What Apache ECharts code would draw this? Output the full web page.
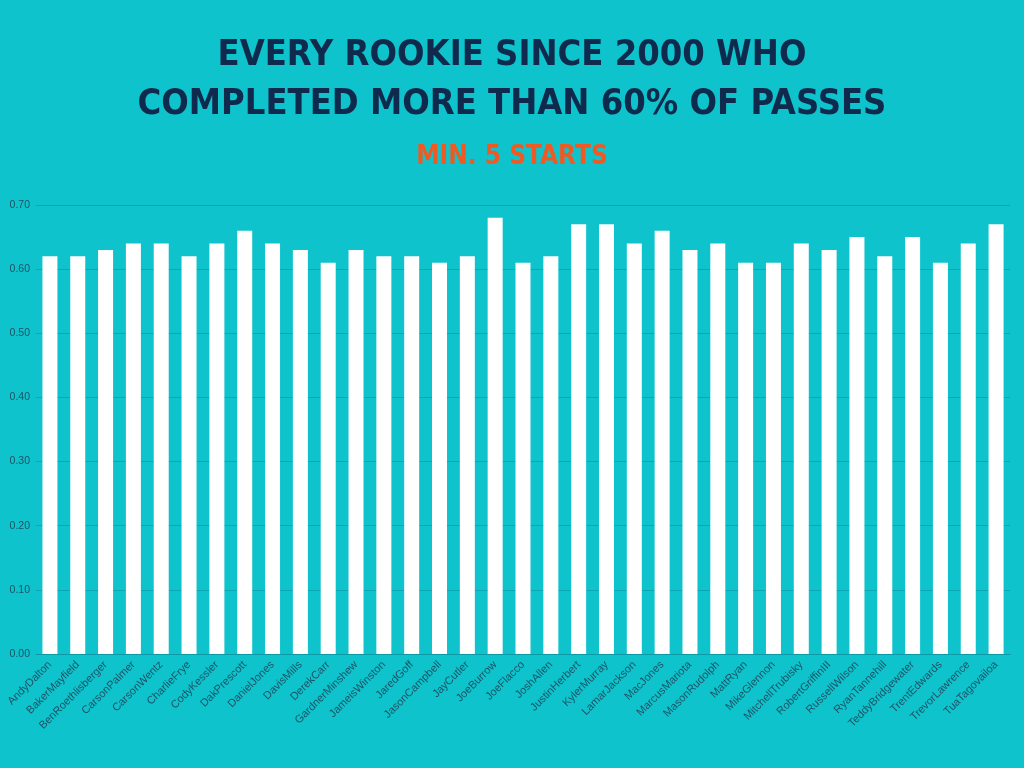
<!DOCTYPE html>
<html><head><meta charset="utf-8">
<script src="https://cdn.jsdelivr.net/npm/echarts@6/dist/echarts.min.js"></script>
<style>html,body{margin:0;padding:0;background:#0fc3cc;}#c{width:1024px;height:768px;}</style>
</head><body><div id="c"></div>
<script>
const categories = ["AndyDalton","BakerMayfield","BenRoethlisberger","CarsonPalmer","CarsonWentz","CharlieFrye","CodyKessler","DakPrescott","DanielJones","DavisMills","DerekCarr","GardnerMinshew","JameisWinston","JaredGoff","JasonCampbell","JayCutler","JoeBurrow","JoeFlacco","JoshAllen","JustinHerbert","KylerMurray","LamarJackson","MacJones","MarcusMariota","MasonRudolph","MattRyan","MikeGlennon","MitchellTrubisky","RobertGriffinIII","RussellWilson","RyanTannehill","TeddyBridgewater","TrentEdwards","TrevorLawrence","TuaTagovailoa"];
const completionPct = [0.62,0.62,0.63,0.64,0.64,0.62,0.64,0.66,0.64,0.63,0.61,0.63,0.62,0.62,0.61,0.62,0.68,0.61,0.62,0.67,0.67,0.64,0.66,0.63,0.64,0.61,0.61,0.64,0.63,0.65,0.62,0.65,0.61,0.64,0.67];
const titleLines = ["EVERY ROOKIE SINCE 2000 WHO","COMPLETED MORE THAN 60% OF PASSES"];
const subtitleText = "MIN. 5 STARTS";

const chart = echarts.init(document.getElementById('c'));
chart.setOption({
  backgroundColor: '#0fc3cc',
  title: [
    {text: titleLines.join('\n'), left: 'center', top: 26,
     textStyle: {fontFamily: '"DejaVu Sans Condensed", "Liberation Sans", sans-serif', fontWeight: 'bold', fontSize: 36, color: '#0f2a4d', lineHeight: 49}},
    {text: subtitleText, left: 'center', top: 139,
     textStyle: {fontFamily: '"DejaVu Sans Condensed", "Liberation Sans", sans-serif', fontWeight: 'bold', fontSize: 26, color: '#f05a22'}}
  ],
  grid: {left: 36, right: 14, top: 205, bottom: 114, containLabel: false},
  xAxis: {
    type: 'category', data: categories,
    axisLine: {lineStyle: {color: '#0b9aa5'}},
    axisTick: {show: false},
    axisLabel: {rotate: 45, interval: 0, color: '#1b5366', fontSize: 11, fontFamily: 'Liberation Sans', margin: 9}
  },
  yAxis: {
    type: 'value', min: 0, max: 0.7, interval: 0.1,
    axisLabel: {formatter: v => v.toFixed(2), color: '#1b5366', fontSize: 10.5, fontFamily: 'Liberation Sans', margin: 6},
    splitLine: {lineStyle: {color: '#0ba8b3', width: 1}},
    axisLine: {show: false}, axisTick: {show: false}
  },
  series: [{type: 'bar', data: completionPct, barWidth: 15, itemStyle: {color: '#ffffff'}, animation: false}]
});
</script></body></html>
